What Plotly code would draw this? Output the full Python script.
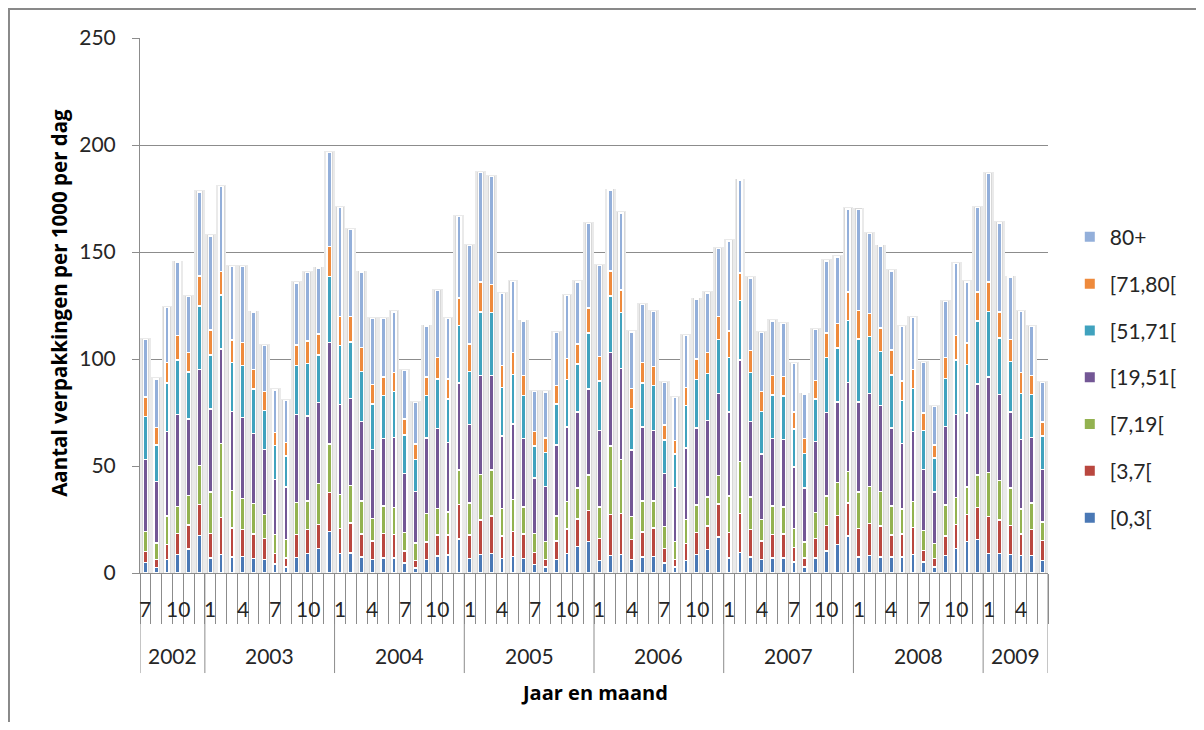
import plotly.graph_objects as go

# ---------------- data ----------------
years = ["2002", "2003", "2004", "2005", "2006", "2007", "2008", "2009"]
year_months = {
    "2002": [7, 8, 9, 10, 11, 12],
    "2003": list(range(1, 13)),
    "2004": list(range(1, 13)),
    "2005": list(range(1, 13)),
    "2006": list(range(1, 13)),
    "2007": list(range(1, 13)),
    "2008": list(range(1, 13)),
    "2009": [1, 2, 3, 4, 5, 6],
}
shown_months = [1, 4, 7, 10]

series_names = ["[0,3[", "[3,7[", "[7,19[", "[19,51[", "[51,71[", "[71,80[", "80+"]
series_colors = ["#4A78B5", "#B9473F", "#93B250", "#735795", "#40A2BE", "#EE8A3C", "#93AFDA"]

s_0_3 = [5, 2.7, 6.3, 8.6, 11.3, 17.5,
         7, 8.6, 7.5, 7.8, 6.7, 6.3, 4.2, 2.8, 7.3, 9, 11.4, 19.5,
         9, 9.4, 7.5, 6.3, 7, 7, 4.7, 2.3, 6.3, 8, 8.4, 15.9,
         6.7, 8.6, 9, 6.7, 7.8, 6.7, 3.9, 2.8, 6.3, 9, 12.5, 14.8,
         5.8, 8.1, 8.6, 6.3, 7.5, 7.8, 4.7, 2.8, 5.8, 8.6, 10.9, 16.9,
         7, 9.7, 7.5, 6.3, 7, 7, 5.2, 2.8, 7, 10.2, 13.3, 17.2,
         7.5, 8.1, 7.5, 7.5, 7.5, 8.6, 5.2, 2.8, 8.1, 11.4, 14.8, 15.6,
         9, 9, 8.6, 8.1, 8.1, 5.9]
s_3_7 = [5, 3.6, 7.1, 9.8, 11.1, 14.5,
         11.4, 17.2, 13.5, 12.5, 11.6, 9.8, 4.8, 4.2, 10.7, 11.3, 11.3, 18,
         11.8, 14, 10.8, 8.6, 11.4, 11, 5.5, 3.6, 8.2, 9.7, 9.3, 16.1,
         11, 16.1, 17.6, 10.5, 11.7, 11.6, 5.8, 3.5, 8.6, 11.6, 12.8, 14.4,
         10.2, 19.2, 19.1, 9.4, 11.7, 13.2, 6.7, 3.5, 8, 10.4, 11, 15.4,
         12, 18.1, 12.8, 8.6, 11, 11.3, 6.8, 4.2, 9, 12.1, 13.6, 15.6,
         13.3, 14.9, 14.4, 10.2, 10.8, 12.8, 5.4, 3.9, 9.1, 11.3, 12.5, 14.9,
         17.3, 15.7, 13.7, 10.2, 12.2, 9.4]
s_7_19 = [9.5, 7.8, 13.2, 12.8, 13.7, 18.3,
          19.4, 34.7, 17.6, 14.5, 14.2, 11.3, 9, 8.6, 15, 13.3, 19, 22.7,
          15.9, 17.6, 15.3, 10.7, 12.9, 12.5, 8.8, 8.1, 13.3, 12.5, 10.9, 16.1,
          15.1, 21.3, 21.5, 13, 14.9, 12.5, 8.7, 8.3, 11.8, 12.7, 14.5, 16.6,
          14.8, 32.1, 25.3, 10.7, 14.4, 12.6, 10.2, 8.3, 11.3, 12.7, 13.6, 13.3,
          17, 24.2, 15.2, 10.2, 13.3, 12.5, 8.8, 7.5, 12.4, 13.7, 15.3, 14.5,
          17, 17.3, 16.1, 13.6, 11.7, 11.9, 9.2, 7.1, 14.5, 12.5, 12.9, 15.3,
          20.7, 18.6, 17.5, 11.7, 12.5, 8.6]
s_19_51 = [33.5, 28.7, 39.5, 42.8, 35.9, 44.7,
           38.8, 44.2, 36.9, 37.9, 32.8, 30.2, 25.8, 24.6, 41.2, 39.8, 38, 47.6,
           42.1, 40.6, 37.2, 32, 31.6, 32.8, 27.6, 24, 35.3, 37.3, 32.4, 40.7,
           36.7, 46.2, 44.1, 33.8, 35.3, 32, 26, 25.8, 33.2, 35, 35.5, 40.2,
           35.9, 43.6, 42.6, 31.1, 34.7, 33.1, 25, 25.3, 33.3, 36, 35.9, 38.3,
           39.3, 47.5, 35.3, 30.5, 31.6, 31.7, 28.7, 25.3, 33, 39, 37.8, 41.7,
           42.2, 43.6, 40.4, 36.5, 30.5, 32.7, 28.6, 24.1, 36.7, 38.8, 34.5, 42.5,
           44.5, 40, 35.5, 32.5, 30.5, 24.5]
s_51_71 = [20, 17, 22.7, 25.5, 21.9, 29.7,
           25.3, 25.3, 22.9, 24.2, 20.7, 18.3, 15.7, 14.5, 22.7, 24.6, 22.2, 30.8,
           27.5, 26.4, 23.4, 21.3, 20, 21.4, 17.8, 15, 19.8, 23.1, 20.3, 26.9,
           24.7, 29.7, 29.4, 22.6, 23, 20.2, 15, 16, 19, 22, 22.4, 26.2,
           23.1, 26.4, 26, 19.3, 20.5, 20.8, 15.6, 15.7, 19.8, 22.6, 21.9, 25.1,
           25.5, 27.8, 23, 20, 20.2, 20.3, 17.7, 16.1, 19.9, 25.8, 25.2, 29,
           29.4, 26.6, 25.2, 24.8, 20, 20.3, 18.3, 15.8, 22.6, 25.5, 22.6, 29.4,
           30.8, 26.5, 23.6, 21.5, 20, 15.6]
s_71_80 = [9.3, 8.3, 9.7, 11.5, 9.1, 14.1,
           11.7, 11, 10.5, 10.9, 9, 9, 6.2, 6.3, 9.7, 10.4, 9.8, 14.1,
           13.6, 11.8, 11.3, 9.3, 8.6, 9.1, 7.5, 7.2, 8.6, 10.2, 9.4, 12.8,
           12.8, 14, 13.2, 10.3, 10.3, 9.2, 6.6, 6.6, 8.8, 10, 9.3, 11.7,
           11.5, 11.7, 10.7, 9.3, 9.7, 8.9, 7, 6.2, 8.6, 9.7, 9.7, 10.8,
           12.2, 12.9, 10.2, 9.3, 9.2, 8.9, 8.1, 6.9, 8.6, 11.4, 11.5, 13.3,
           13.3, 10.9, 10.9, 11.7, 9.3, 8.8, 8, 6.2, 9.8, 11.5, 10.2, 13.6,
           13.7, 12.1, 10.1, 9.8, 8.9, 6.6]
s_80_plus = [26.7, 22.6, 25.6, 34.3, 26.2, 39.3,
             43.9, 39.5, 34.4, 35.5, 26.9, 21.5, 19.9, 19.5, 29, 31.9, 30.8, 43.9,
             50.8, 40.7, 35.1, 30.8, 27.4, 28.2, 22.8, 19.5, 23.9, 31.2, 28.2, 38,
             46, 51.3, 50.4, 33.6, 33.3, 25.5, 18.8, 21.6, 24.7, 29.4, 29, 39.4,
             42.5, 37.8, 36, 26.6, 26.9, 25.9, 19.8, 20.3, 24.2, 28, 27.9, 31.8,
             42.2, 43.4, 33.9, 27.4, 25.5, 25, 22.7, 20.8, 23.8, 33.6, 31, 38.8,
             47.3, 37.2, 38.3, 36.9, 25.5, 24.2, 23.7, 18, 26.1, 33.5, 28.5, 39.4,
             50.8, 41.7, 29.3, 28.5, 23.1, 18.4]

series_values = [s_0_3, s_3_7, s_7_19, s_19_51, s_51_71, s_71_80, s_80_plus]

# ---------------- derived ----------------
month_list = []
for y in years:
    for m in year_months[y]:
        month_list.append(m)
n = len(month_list)
xs = list(range(n))
totals = [sum(s[i] for s in series_values) for i in range(n)]

GRAY = "#8c8c8c"
TXT = "#262626"
FONT = "Lato"
TFONT = "Open Sans"

fig = go.Figure()

# soft shadow behind every column (Excel glow effect)
fig.add_trace(go.Bar(x=xs, y=totals, width=0.72, xaxis="x", yaxis="y",
                     marker=dict(color="#eaeaea", line=dict(color="#eaeaea", width=3)),
                     showlegend=False, hoverinfo="skip"))
fig.add_trace(go.Bar(x=xs, y=totals, width=0.52, xaxis="x2", yaxis="y",
                     marker=dict(color="#d8d8d8", line=dict(color="#d8d8d8", width=1.5)),
                     showlegend=False, hoverinfo="skip"))

nser = len(series_names)
for k, (name, color, vals) in enumerate(zip(series_names, series_colors, series_values)):
    fig.add_trace(go.Bar(x=xs, y=vals, width=0.38, name=name, xaxis="x3", yaxis="y",
                         legendgroup=name, legendrank=nser - k,
                         marker=dict(color=color, line=dict(color="white", width=1.4))))

xr = [-0.5, n - 0.5]
boundaries = [k - 0.5 for k in range(n + 1)]

annotations = []
for i, m in enumerate(month_list):
    if m in shown_months:
        annotations.append(dict(x=i, y=-0.066, xref="x", yref="paper", text=str(m),
                                showarrow=False, font=dict(size=21, color=TXT, family=FONT),
                                xanchor="center", yanchor="middle"))
shapes = []
start = 0
year_bounds = [-0.5]
for y in years:
    cnt = len(year_months[y])
    annotations.append(dict(x=start + (cnt - 1) / 2, y=-0.155, xref="x", yref="paper", text=y,
                            showarrow=False, font=dict(size=21, color=TXT, family=FONT),
                            xanchor="center", yanchor="middle"))
    start += cnt
    year_bounds.append(start - 0.5)
for b in year_bounds:
    shapes.append(dict(type="line", xref="x", yref="paper", x0=b, x1=b, y0=0, y1=-0.187,
                       line=dict(color=GRAY, width=1)))

annotations.append(dict(x=0.5, y=-0.224, xref="paper", yref="paper", text="<b>Jaar en maand</b>",
                        showarrow=False, font=dict(size=20, color="#000", family=TFONT),
                        xanchor="center", yanchor="middle"))
annotations.append(dict(x=-0.0892, y=0.505, xref="paper", yref="paper",
                        text="<b>Aantal verpakkingen per 1000 per dag</b>", textangle=-90,
                        showarrow=False, font=dict(size=20.5, color="#000", family=TFONT),
                        xanchor="center", yanchor="middle"))

# chart-area frame
shapes.append(dict(type="rect", xref="paper", yref="paper", x0=-0.1443, x1=1.2, y0=-0.32, y1=1.054,
                   line=dict(color="#898989", width=2), layer="below"))

fig.update_layout(
    width=1188, height=714,
    margin=dict(l=132, r=148, t=30, b=149),
    paper_bgcolor="white", plot_bgcolor="white",
    barmode="stack",
    font=dict(family=FONT, color=TXT, size=21),
    xaxis=dict(range=xr, showline=True, linecolor=GRAY, linewidth=1,
               tickmode="array", tickvals=boundaries, ticks="outside", ticklen=50,
               tickcolor=GRAY, tickwidth=1, showticklabels=False,
               showgrid=False, zeroline=False, fixedrange=True),
    xaxis2=dict(range=xr, overlaying="x", visible=False, matches="x"),
    xaxis3=dict(range=xr, overlaying="x", visible=False, matches="x"),
    yaxis=dict(range=[0, 250], tickmode="linear", tick0=0, dtick=50,
               showgrid=True, gridcolor=GRAY, gridwidth=1,
               showline=True, linecolor=GRAY, linewidth=1,
               ticks="outside", ticklen=7, tickcolor=GRAY,
               ticklabelstandoff=12,
               tickfont=dict(size=21, color=TXT, family=FONT), zeroline=False),
    legend=dict(x=1.024, xanchor="left", y=0.666, yanchor="top",
                traceorder="grouped", tracegroupgap=16.5,
                font=dict(size=21, color=TXT, family=FONT),
                bgcolor="rgba(0,0,0,0)", itemsizing="constant"),
    annotations=annotations,
    shapes=shapes,
    showlegend=True,
)

fig.write_html("out.html")
